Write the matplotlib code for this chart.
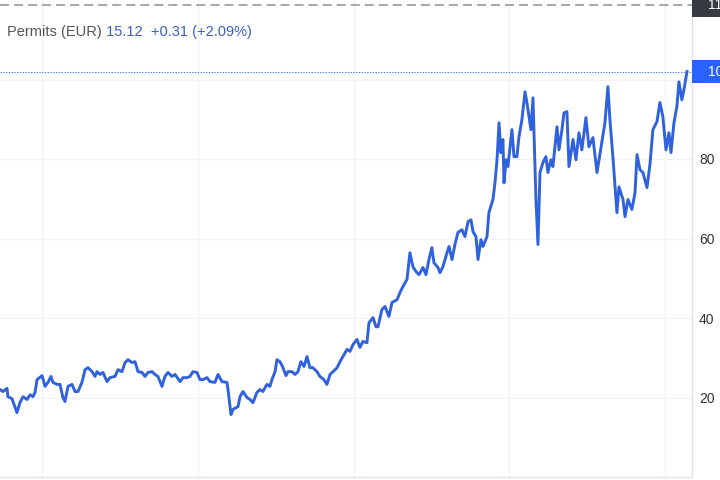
import matplotlib
matplotlib.use("Agg")
import matplotlib.pyplot as plt
from matplotlib.patches import Rectangle
from matplotlib.transforms import blended_transform_factory

plt.rcParams["font.family"] = ["Liberation Sans", "DejaVu Sans"]
plt.rcParams["lines.scale_dashes"] = False

# ── Data ──────────────────────────────────────────────────
years = [
    2018.730, 2018.749, 2018.775, 2018.781, 2018.807, 2018.813, 2018.839, 2018.858,
    2018.878, 2018.903, 2018.923, 2018.942, 2018.955, 2018.968, 2019.000, 2019.019,
    2019.038, 2019.057, 2019.070, 2019.096, 2019.115, 2019.134, 2019.147, 2019.167,
    2019.192, 2019.212, 2019.231, 2019.256, 2019.276, 2019.295, 2019.321, 2019.340,
    2019.353, 2019.372, 2019.391, 2019.417, 2019.436, 2019.468, 2019.488, 2019.513,
    2019.533, 2019.552, 2019.577, 2019.597, 2019.616, 2019.642, 2019.661, 2019.680,
    2019.706, 2019.725, 2019.744, 2019.770, 2019.789, 2019.809, 2019.834, 2019.854,
    2019.886, 2019.905, 2019.931, 2019.950, 2019.969, 2019.995, 2020.014, 2020.033,
    2020.059, 2020.078, 2020.110, 2020.130, 2020.155, 2020.187, 2020.194, 2020.213,
    2020.226, 2020.258, 2020.271, 2020.290, 2020.316, 2020.335, 2020.354, 2020.380,
    2020.399, 2020.418, 2020.444, 2020.463, 2020.476, 2020.496, 2020.508, 2020.528,
    2020.547, 2020.566, 2020.579, 2020.605, 2020.624, 2020.643, 2020.662, 2020.682,
    2020.701, 2020.720, 2020.739, 2020.765, 2020.784, 2020.810, 2020.829, 2020.849,
    2020.868, 2020.894, 2020.913, 2020.932, 2020.958, 2020.977, 2020.996, 2021.022,
    2021.041, 2021.060, 2021.086, 2021.099, 2021.125, 2021.144, 2021.157, 2021.182,
    2021.202, 2021.227, 2021.247, 2021.279, 2021.298, 2021.317, 2021.343, 2021.362,
    2021.381, 2021.401, 2021.420, 2021.446, 2021.465, 2021.484, 2021.503, 2021.516,
    2021.542, 2021.555, 2021.574, 2021.600, 2021.613, 2021.632, 2021.651, 2021.670,
    2021.696, 2021.715, 2021.735, 2021.754, 2021.767, 2021.786, 2021.799, 2021.818,
    2021.831, 2021.857, 2021.869, 2021.895, 2021.908, 2021.921, 2021.934, 2021.946,
    2021.959, 2021.966, 2021.979, 2021.991, 2022.017, 2022.030, 2022.049, 2022.062,
    2022.081, 2022.101, 2022.113, 2022.120, 2022.139, 2022.152, 2022.158, 2022.171,
    2022.184, 2022.197, 2022.216, 2022.235, 2022.248, 2022.267, 2022.280, 2022.306,
    2022.319, 2022.338, 2022.351, 2022.370, 2022.383, 2022.409, 2022.428, 2022.447,
    2022.466, 2022.492, 2022.511, 2022.537, 2022.563, 2022.595, 2022.614, 2022.633,
    2022.646, 2022.665, 2022.691, 2022.704, 2022.730, 2022.743, 2022.762, 2022.787,
    2022.807, 2022.820, 2022.839, 2022.858, 2022.884, 2022.903, 2022.922, 2022.948,
    2022.967, 2022.986, 2023.006, 2023.025, 2023.038, 2023.057, 2023.076, 2023.089,
    2023.108, 2023.121, 2023.141,
]
prices = [
    22.0, 21.5, 22.3, 20.2, 19.7, 19.0, 16.2, 18.7,
    20.2, 19.5, 20.7, 20.2, 21.3, 24.5, 25.5, 22.8,
    23.8, 25.3, 23.8, 23.3, 23.3, 20.0, 19.0, 22.8,
    23.3, 21.5, 21.5, 23.8, 27.0, 27.5, 26.5, 25.3,
    26.5, 25.8, 26.3, 24.0, 25.0, 25.3, 27.0, 26.5,
    28.8, 29.5, 28.8, 29.0, 26.5, 26.3, 25.3, 26.3,
    26.5, 25.8, 25.3, 22.8, 25.3, 26.3, 25.3, 25.8,
    24.0, 25.0, 25.0, 25.3, 26.5, 26.3, 24.5, 24.5,
    25.0, 24.0, 23.8, 25.8, 24.0, 23.8, 22.0, 15.7,
    17.0, 17.7, 20.2, 21.5, 20.0, 19.5, 18.7, 21.3,
    22.0, 21.5, 23.3, 22.8, 24.5, 26.5, 29.5, 29.0,
    27.5, 25.5, 26.5, 26.5, 25.8, 26.5, 29.0, 27.8,
    30.3, 27.5, 27.5, 26.5, 25.3, 24.5, 23.3, 25.8,
    26.5, 27.5, 29.0, 30.3, 32.1, 31.6, 33.3, 34.6,
    32.6, 34.1, 33.8, 38.8, 40.1, 37.8, 37.8, 42.1,
    42.9, 40.4, 43.9, 44.6, 46.4, 47.9, 49.7, 56.4,
    52.9, 51.7, 50.9, 52.7, 50.9, 54.7, 57.7, 53.9,
    52.7, 51.4, 52.9, 56.4, 58.0, 54.7, 58.5, 61.5,
    62.2, 60.5, 64.2, 64.7, 61.7, 60.5, 54.7, 59.7,
    58.0, 60.5, 66.5, 69.8, 74.0, 79.8, 89.1, 81.6,
    84.9, 74.0, 79.8, 78.1, 87.4, 80.6, 80.6, 85.6,
    89.9, 96.9, 94.2, 92.4, 87.4, 95.4, 87.4, 69.8,
    58.5, 76.6, 79.1, 80.6, 76.6, 79.8, 78.1, 88.1,
    82.3, 87.4, 91.6, 91.9, 78.1, 84.9, 79.8, 86.6,
    82.3, 90.4, 83.1, 85.4, 76.6, 84.4, 89.1, 98.2,
    89.9, 80.6, 66.5, 73.0, 69.8, 65.5, 69.8, 67.3,
    71.5, 81.1, 77.3, 76.6, 72.8, 78.6, 87.4, 89.4,
    94.2, 90.6, 82.3, 86.6, 81.6, 89.1, 93.2, 99.4,
    94.9, 97.4, 102.0,
]
high_value = 118.8
yticks = [20, 40, 60, 80, 100]
ytick_labels = ["20", "40", "60", "80", ""]   # 100 sits under the last-price label
year_lines = [2019, 2020, 2021, 2022, 2023]

LINE_BLUE = "#2f62dc"
LABEL_BLUE = "#2962ff"

# ── Figure ────────────────────────────────────────────────
fig = plt.figure(figsize=(7.2, 4.8), dpi=100)
ax = fig.add_axes([0.0, 3 / 480, 692 / 720, 477 / 480])

ax.plot(years, prices, color=LINE_BLUE, lw=2.1, solid_joinstyle="round", zorder=3)

ax.set_xlim(2018.730, 2023.173)
ax.set_ylim(0, 120)

ax.set_xticks(year_lines)
ax.set_yticks(yticks)
ax.set_yticklabels(ytick_labels)
ax.grid(True, color="#f0f3fa", lw=1.0, zorder=0)
ax.tick_params(axis="x", length=0, labelbottom=False)
ax.yaxis.tick_right()
ax.tick_params(axis="y", length=0, pad=5, labelsize=10, labelcolor="#333333")

for side in ["top", "left"]:
    ax.spines[side].set_visible(False)
for side in ["right", "bottom"]:
    ax.spines[side].set_color("#e0e3eb")
    ax.spines[side].set_linewidth(1.0)

# high dashed line + last price dotted line
ax.axhline(high_value, color="#9598a1", lw=1.2, ls=(0, (6.5, 3.6)), zorder=2)
last = prices[-1]
ax.axhline(last, color=LABEL_BLUE, lw=0.8, ls=(0, (1, 1)), alpha=0.8, zorder=2)

# price labels on the right scale
tr = blended_transform_factory(ax.transAxes, ax.transData)
for val, col in [(high_value, "#363a45"), (last, LABEL_BLUE)]:
    ax.add_patch(Rectangle((1.0, val - 3.0), 0.1, 6.0, transform=tr,
                           facecolor=col, edgecolor="none", clip_on=False, zorder=5))
    ax.text(1.0 + 16 / 692, val, f"{val:.0f}", transform=tr, color="white",
            fontsize=10, va="center", ha="left", clip_on=False, zorder=6)

# legend header
t1 = fig.text(7 / 720, 1 - 32 / 480, "Permits (EUR)", color="#555555",
              fontsize=10.5, va="center", ha="left")
ax.annotate(" 15.12  +0.31 (+2.09%)", xy=(1, 0), xycoords=t1,
            va="bottom", ha="left", color="#3d5fc4", fontsize=10.5)

fig.savefig("out.png", dpi=100)
plt.close()
